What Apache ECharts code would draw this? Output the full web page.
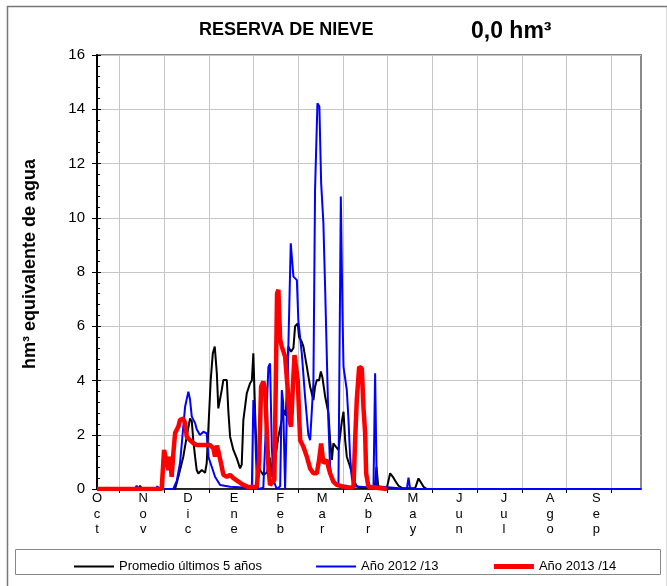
<!DOCTYPE html>
<html>
<head>
<meta charset="utf-8">
<script src="https://cdn.jsdelivr.net/npm/echarts@6/dist/echarts.min.js"></script>
<style>html,body{margin:0;padding:0;background:#fff;}#c{width:667px;height:586px;}</style>
</head>
<body>
<div id="c"></div>
<script>
// Day index counted from 1 October
var monthNames = ['Oct','Nov','Dic','Ene','Feb','Mar','Abr','May','Jun','Jul','Ago','Sep'];
var monthStarts = [0,31,61,92,123,151,182,212,243,273,304,335];
var tickDays = [15,45,75,105,135,165,195,225,255,285,315,345];
var yTicks = [0,2,4,6,8,10,12,14,16];

var promedio = [[0,0],[27.7,0],[28.9,0.12],[30.2,0],[52.4,0],[54.6,0.45],[57.9,1.19],[60.2,1.93],[62.4,2.6],[63.6,2.5],[64.6,1.8],[65.8,1.19],[66.9,0.7],[68,0.57],[70.3,0.7],[71.4,0.76],[72.5,0.6],[73.6,0.95],[74.7,2.2],[76.3,4.02],[77.7,5.0],[79,5.25],[80.4,4.27],[81.4,2.97],[82.6,2.97],[83.7,3.65],[84.8,4.02],[87.1,4.02],[88.1,2.9],[89.3,1.93],[91.5,1.44],[93.8,1.13],[96,0.76],[97.1,0.9],[98.2,2.54],[100.5,3.53],[102.7,3.9],[103.9,4.0],[104.9,5.0],[106.1,2.79],[107.2,1.19],[109.4,0.7],[111.6,0.52],[114,0.6],[116.1,1.15],[117.5,0.45],[119.5,1.07],[121.7,1.93],[124,2.54],[125.7,2.91],[126.7,2.7],[128.4,5.25],[130.2,5.06],[131.8,5.2],[132.9,6.0],[134.7,6.1],[135.6,5.6],[137.4,5.43],[138.5,5.25],[140.8,4.5],[143,3.77],[145.2,3.28],[146.3,3.77],[147.5,4.02],[149,4.0],[150.2,4.33],[151.3,4.1],[153.1,3.4],[155.3,2.79],[156.4,1.8],[157.6,1.07],[158.6,1.68],[160.2,1.56],[162,1.44],[164.3,2.5],[165.4,2.85],[166.5,1.8],[167.6,1.19],[169.8,0.82],[172.1,0.33],[174.3,0.1],[176.6,0.05],[186.4,0.05],[187.5,0.82],[188.8,0.05],[194.5,0.05],[196.7,0.58],[198.5,0.45],[200.1,0.3],[202.3,0.12],[204.8,0.03],[213.5,0.03],[215.7,0.39],[217.3,0.25],[219.1,0.08],[221.3,0],[365,0]];

var ano2012 = [[0,0],[25.5,0],[26.6,0.12],[27.8,0],[39.5,0],[40.5,0.1],[41.5,0],[51.2,0],[53.5,0.3],[55.7,0.95],[59.1,3.03],[61.3,3.59],[62.4,3.3],[63.6,2.67],[65.8,2.43],[66.9,2.2],[69.1,1.99],[71.4,2.11],[73.6,2.05],[74.7,1.19],[77,0.82],[79.2,0.45],[82.6,0.15],[89.3,0.08],[101.6,0.05],[103.9,0.05],[104.9,3.28],[106.1,2.18],[107.2,0.33],[108.3,0],[111.6,0.05],[113.9,3.03],[115,4.5],[116.1,4.63],[117.3,1.56],[118.4,0.33],[120.6,0],[122.9,0.1],[124,3.65],[124.9,3.2],[126.2,0],[127.4,0],[128.4,5.25],[130,9.06],[131.8,7.83],[132.9,7.9],[134.1,7.7],[135.1,6.2],[137.4,5.0],[139.6,3.4],[141.8,2.0],[143,1.8],[144.1,1.85],[145.2,3.9],[146.3,11.02],[147.9,14.22],[149.2,14.1],[150.4,11.27],[151.9,9.8],[153.1,7.34],[154.2,4.88],[155.3,2.42],[156.4,0.82],[157.6,0.33],[162,0.1],[163.6,10.78],[164.7,6.5],[165.4,4.5],[167.6,3.65],[168.7,2.6],[169.8,1.2],[171,0.4],[172.1,0.1],[185.5,0.05],[186.6,4.27],[187.7,0.1],[207.9,0],[209,0.42],[210.1,0],[365,0]];

var ano2013 = [[0,0],[43.4,0],[45,1.44],[47.9,0.7],[49,1.19],[50.1,0.45],[51.2,1.3],[52.4,2.06],[54.6,2.3],[55.7,2.54],[57.9,2.6],[59.1,2.43],[60.2,1.93],[62.4,1.8],[64.6,1.69],[66.9,1.62],[73.6,1.62],[75.9,1.62],[78.1,1.5],[79.2,1.2],[80.4,1.6],[81.4,1.4],[83.7,0.82],[84.8,0.52],[87.1,0.45],[89.3,0.52],[91.5,0.4],[94.9,0.27],[98.2,0.15],[101.6,0.07],[107.2,0.07],[108.8,1.07],[110.1,3.77],[111.6,3.96],[112.8,3.65],[113.9,2.18],[115,0.82],[116.1,0.15],[117.3,0.1],[119,0.33],[120,4.0],[120.8,7.21],[121.7,7.34],[122.9,5.5],[124,5.25],[126.2,4.88],[128,3.65],[129.1,2.54],[130.2,2.3],[131.1,3.4],[132.5,4.94],[133.6,4.94],[134.7,4.0],[135.7,2.6],[136.3,1.8],[138.5,1.56],[140.8,1.19],[143,0.76],[145.2,0.58],[147.5,0.58],[149,1.07],[150.4,1.68],[151.2,1.68],[151.9,0.95],[154.2,1.07],[155.3,0.8],[156.4,0.58],[158.6,0.27],[160.9,0.15],[164.3,0.1],[169.8,0.05],[172.1,0.08],[173.2,1.8],[174.3,3.28],[175.9,4.5],[177.7,4.45],[178.8,3.0],[179.9,2.05],[180.6,0.58],[182.1,0.08],[194.5,0]];

var FONT = "'Liberation Sans', Arial, sans-serif";
var chart = echarts.init(document.getElementById('c'), null, {renderer: 'canvas'});
chart.setOption({
  animation: false,
  backgroundColor: '#fff',
  textStyle: {fontFamily: FONT},
  title: [
    {text: 'RESERVA DE NIEVE', left: 194, top: 16, textStyle: {fontFamily: FONT, fontSize: 18, fontWeight: 'bold', color: '#000'}},
    {text: '0,0 hm³', left: 466, top: 15, textStyle: {fontFamily: FONT, fontSize: 23, fontWeight: 'bold', color: '#000'}}
  ],
  graphic: [
    {type: 'rect', left: 5, top: 4, shape: {width: 660, height: 620}, style: {fill: 'none', stroke: '#777', lineWidth: 1.5}, silent: true},
    {type: 'rect', left: 15, top: 549, shape: {width: 645, height: 25}, style: {fill: '#fff', stroke: '#888', lineWidth: 1}, silent: true, z: -1}
  ],
  legend: {
    left: 68, top: 555, itemWidth: 40, itemHeight: 14, itemGap: 53,
    itemStyle: {opacity: 0},
    textStyle: {fontFamily: FONT, fontSize: 13, color: '#000'},
    data: [
      {name: 'Promedio últimos 5 años', lineStyle: {width: 2}},
      {name: 'Año 2012 /13', lineStyle: {width: 2}},
      {name: 'Año 2013 /14', lineStyle: {width: 5}}
    ]
  },
  grid: {left: 97, top: 55, right: 26, bottom: 97, show: true, borderColor: '#888', borderWidth: 2},
  xAxis: {
    type: 'value', min: 0, max: 365, interval: 30,
    axisLine: {show: true, onZero: false, lineStyle: {color: '#000', width: 1.5}},
    axisTick: {show: true, customValues: tickDays, length: 4, lineStyle: {color: '#000'}},
    splitLine: {show: true, lineStyle: {color: '#c6c6c6', width: 1}},
    axisLabel: {
      customValues: monthStarts, margin: 2, fontSize: 13, lineHeight: 15.5, color: '#000', fontFamily: FONT,
      formatter: function (v) {
        var i = monthStarts.indexOf(Math.round(v));
        return i < 0 ? '' : monthNames[i].split('').join('\n');
      }
    }
  },
  yAxis: [{
    type: 'value', min: 0, max: 16, interval: 2,
    name: 'hm³ equivalente de agua', nameLocation: 'middle', nameGap: 58, nameRotate: 90,
    nameTextStyle: {fontFamily: FONT, fontSize: 18, fontWeight: 'bold', color: '#000', padding: [0, 0, 0, 16]},
    axisLine: {show: true, lineStyle: {color: '#000', width: 2}},
    axisTick: {show: true, length: 5, lineStyle: {color: '#000'}},
    axisLabel: {fontSize: 15, color: '#000', margin: 12, fontFamily: FONT,
      customValues: yTicks},
    splitLine: {show: true, lineStyle: {color: '#c6c6c6', width: 1}}
  }, {
    type: 'value', min: 0, max: 16, interval: 2, position: 'left', offset: 0,
    axisLine: {show: false},
    axisTick: {show: true, inside: true, length: 4, lineStyle: {color: '#000'}},
    minorTick: {show: true, splitNumber: 5, length: 3, lineStyle: {color: '#000'}},
    axisLabel: {show: false},
    splitLine: {show: false}
  }],
  series: [
    {name: 'Promedio últimos 5 años', type: 'line', data: promedio, showSymbol: false, symbol: 'none',
     lineStyle: {color: '#000', width: 2}, itemStyle: {color: '#000'}},
    {name: 'Año 2012 /13', type: 'line', data: ano2012, showSymbol: false, symbol: 'none',
     lineStyle: {color: '#0000ff', width: 2}, itemStyle: {color: '#0000ff'}},
    {name: 'Año 2013 /14', type: 'line', data: ano2013, showSymbol: false, symbol: 'none',
     lineStyle: {color: '#ff0000', width: 4.5}, itemStyle: {color: '#ff0000'}}
  ]
});
</script>
</body>
</html>
